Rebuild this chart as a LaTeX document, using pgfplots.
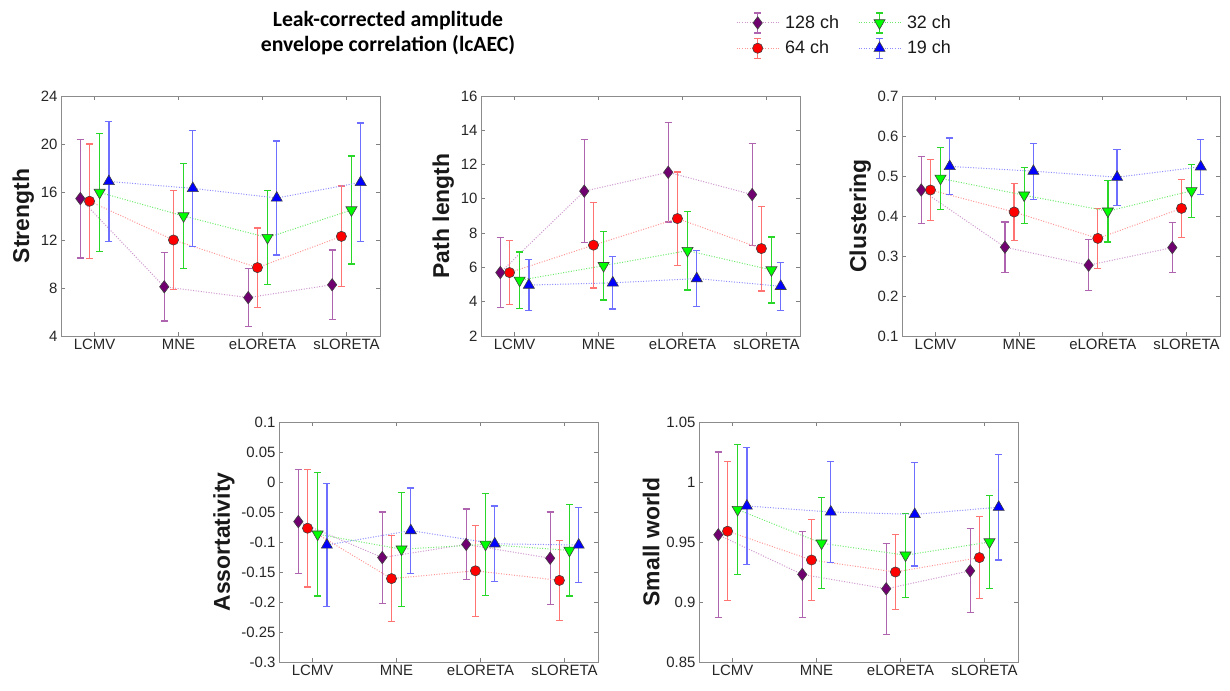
\documentclass[border=0pt]{standalone}
\usepackage{pgfplots}
\pgfplotsset{compat=1.18}
\usepackage{pgfplotstable}
\usepackage{fontspec}
\setmainfont{Liberation Sans}
\newfontfamily\titlefont{Carlito}

\definecolor{purpleM}{RGB}{112,0,112}
\definecolor{purpleE}{RGB}{175,100,175}
\definecolor{purpleL}{RGB}{205,150,205}
\definecolor{redM}{RGB}{255,0,0}
\definecolor{redE}{RGB}{255,115,115}
\definecolor{redL}{RGB}{255,150,150}
\definecolor{greenM}{RGB}{0,255,0}
\definecolor{greenE}{RGB}{40,215,40}
\definecolor{greenL}{RGB}{110,235,110}
\definecolor{blueM}{RGB}{0,0,255}
\definecolor{blueE}{RGB}{110,110,255}
\definecolor{blueL}{RGB}{140,140,255}

% columns: x, 128 ch (p, pe), 64 ch (r, re), 32 ch (g, ge), 19 ch (b, be)
\pgfplotstableread{
x p pe r re g ge b be
1 15.45 4.95 15.23 4.77 15.96 4.90 16.88 5.00
2 8.10 2.85 12.00 4.10 14.00 4.37 16.30 4.85
3 7.20 2.40 9.70 3.30 12.20 3.90 15.50 4.75
4 8.27 2.90 12.30 4.20 14.50 4.50 16.80 4.95
}\tStrength
\pgfplotstableread{
x p pe r re g ge b be
1 5.70 2.05 5.70 1.87 5.25 1.65 4.97 1.50
2 10.45 3.00 7.30 2.50 6.10 2.00 5.10 1.52
3 11.55 2.90 8.85 2.72 6.98 2.30 5.35 1.62
4 10.25 2.97 7.10 2.47 5.85 1.93 4.90 1.40
}\tPath
\pgfplotstableread{
x p pe r re g ge b be
1 0.465 0.083 0.465 0.077 0.494 0.077 0.524 0.071
2 0.322 0.063 0.410 0.072 0.452 0.070 0.512 0.070
3 0.277 0.064 0.344 0.075 0.412 0.077 0.497 0.070
4 0.321 0.062 0.419 0.073 0.463 0.066 0.523 0.069
}\tClust
\pgfplotstableread{
x p pe r re g ge b be
1 -0.066 0.087 -0.077 0.098 -0.087 0.103 -0.105 0.103
2 -0.126 0.076 -0.161 0.072 -0.112 0.095 -0.081 0.071
3 -0.104 0.059 -0.148 0.076 -0.104 0.085 -0.103 0.063
4 -0.127 0.077 -0.164 0.067 -0.114 0.076 -0.105 0.063
}\tAssort
\pgfplotstableread{
x p pe r re g ge b be
1 0.956 0.069 0.959 0.058 0.977 0.054 0.980 0.049
2 0.923 0.036 0.935 0.034 0.949 0.038 0.975 0.042
3 0.911 0.038 0.925 0.031 0.939 0.035 0.973 0.043
4 0.926 0.035 0.937 0.034 0.950 0.039 0.979 0.044
}\tSmall

\pgfplotsset{
  dotline/.style={dash pattern=on 1bp off 1.6bp, line width=1bp},
  s128/.style={color=purpleL, dotline, mark=diamond*, mark size=6.2bp,
    mark options={solid, fill=purpleM, draw=black!75, line width=0.6pt},
    legend image code/.code={
      \draw[purpleE, solid, line width=1.3bp] (21bp,-10bp)--(21bp,10bp) (17.5bp,-10bp)--(24.5bp,-10bp) (17.5bp,10bp)--(24.5bp,10bp);
      \draw[mark repeat=2,mark phase=2,##1] plot coordinates {(0bp,0bp)(21bp,0bp)(42bp,0bp)};},
    error bars/.cd, y dir=both, y explicit,
    error bar style={solid, purpleE, line width=1.3bp},
    error mark options={solid, rotate=90, mark size=3.6bp, draw=purpleE, line width=1.3bp}},
  s64/.style={color=redL, dotline, mark=*, mark size=5.1bp,
    mark options={solid, fill=redM, draw=black!75, line width=0.6pt},
    legend image code/.code={
      \draw[redE, solid, line width=1.3bp] (21bp,-10bp)--(21bp,10bp) (17.5bp,-10bp)--(24.5bp,-10bp) (17.5bp,10bp)--(24.5bp,10bp);
      \draw[mark repeat=2,mark phase=2,##1] plot coordinates {(0bp,0bp)(21bp,0bp)(42bp,0bp)};},
    error bars/.cd, y dir=both, y explicit,
    error bar style={solid, redE, line width=1.3bp},
    error mark options={solid, rotate=90, mark size=3.6bp, draw=redE, line width=1.3bp}},
  s32/.style={color=greenL, dotline, mark=triangle*, mark size=6.4bp,
    mark options={solid, rotate=180, fill=greenM, draw=black!75, line width=0.6pt},
    legend image code/.code={
      \draw[greenE, solid, line width=1.3bp] (21bp,-10bp)--(21bp,10bp) (17.5bp,-10bp)--(24.5bp,-10bp) (17.5bp,10bp)--(24.5bp,10bp);
      \draw[mark repeat=2,mark phase=2,##1] plot coordinates {(0bp,0bp)(21bp,0bp)(42bp,0bp)};},
    error bars/.cd, y dir=both, y explicit,
    error bar style={solid, greenE, line width=1.3bp},
    error mark options={solid, rotate=90, mark size=3.6bp, draw=greenE, line width=1.3bp}},
  s19/.style={color=blueL, dotline, mark=triangle*, mark size=6.4bp,
    mark options={solid, fill=blueM, draw=black!75, line width=0.6pt},
    legend image code/.code={
      \draw[blueE, solid, line width=1.3bp] (21bp,-10bp)--(21bp,10bp) (17.5bp,-10bp)--(24.5bp,-10bp) (17.5bp,10bp)--(24.5bp,10bp);
      \draw[mark repeat=2,mark phase=2,##1] plot coordinates {(0bp,0bp)(21bp,0bp)(42bp,0bp)};},
    error bars/.cd, y dir=both, y explicit,
    error bar style={solid, blueE, line width=1.3bp},
    error mark options={solid, rotate=90, mark size=3.6bp, draw=blueE, line width=1.3bp}},
  panel/.style={scale only axis, width=319bp, height=240bp, anchor=south west,
    xmin=0.6, xmax=4.4, xtick={1,2,3,4}, xticklabels={LCMV,MNE,eLORETA,sLORETA},
    tick align=inside, major tick length=4bp,
    axis line style={black!45, line width=0.8pt},
    every tick/.style={black!50, line width=0.8pt},
    tick label style={font=\fontsize{15}{18}\selectfont, text=black!85},
    ylabel style={font=\fontsize{23}{27}\selectfont\bfseries, text=black!90},
    clip=false},
}

\newcommand{\fourseries}[1]{%
  \addplot[s128] table[x expr=\thisrow{x}-0.17, y=p, y error=pe] {#1};
  \addplot[s64] table[x expr=\thisrow{x}-0.06, y=r, y error=re] {#1};
  \addplot[s32] table[x expr=\thisrow{x}+0.06, y=g, y error=ge] {#1};
  \addplot[s19] table[x expr=\thisrow{x}+0.17, y=b, y error=be] {#1};
}

\begin{document}
\begin{tikzpicture}
\useasboundingbox (0,0) rectangle (1230bp,691bp);

\node[align=center, font=\titlefont\bfseries\fontsize{21.8}{25}\selectfont, text=black]
  at (388bp,658bp) {Leak-corrected amplitude\\envelope correlation (lcAEC)};

\begin{axis}[panel, at={(61bp,355bp)}, ymin=4, ymax=24,
  ytick={4,8,12,16,20,24}, yticklabels={4,8,12,16,20,24}, ylabel={Strength}]
\fourseries{\tStrength}
\end{axis}

\begin{axis}[panel, at={(481bp,355bp)}, ymin=2, ymax=16,
  ytick={2,4,6,8,10,12,14,16}, yticklabels={2,4,6,8,10,12,14,16}, ylabel={Path length},
  legend style={at={(0.79,1.358)}, anchor=north west, draw=none, fill=none,
    font=\fontsize{18}{21}\selectfont, text=black!90, row sep=4bp,
    /tikz/every odd column/.append style={column sep=4bp},
    /tikz/every even column/.append style={column sep=17bp}},
  legend columns=2, transpose legend, legend cell align=left]
\fourseries{\tPath}
\legend{128 ch, 64 ch, 32 ch, 19 ch}
\end{axis}

\begin{axis}[panel, at={(902bp,355bp)}, width=318bp, ymin=0.1, ymax=0.7,
  ytick={0.1,0.2,0.3,0.4,0.5,0.6,0.7}, yticklabels={0.1,0.2,0.3,0.4,0.5,0.6,0.7}, ylabel={Clustering}]
\fourseries{\tClust}
\end{axis}

\begin{axis}[panel, at={(279bp,29bp)}, ymin=-0.3, ymax=0.1,
  ytick={-0.3,-0.25,-0.2,-0.15,-0.1,-0.05,0,0.05,0.1},
  yticklabels={-0.3,-0.25,-0.2,-0.15,-0.1,-0.05,0,0.05,0.1}, ylabel={Assortativity}]
\fourseries{\tAssort}
\end{axis}

\begin{axis}[panel, at={(699bp,29bp)}, ymin=0.85, ymax=1.05,
  ytick={0.85,0.9,0.95,1,1.05}, yticklabels={0.85,0.9,0.95,1,1.05}, ylabel={Small world}]
\fourseries{\tSmall}
\end{axis}
\end{tikzpicture}
\end{document}
